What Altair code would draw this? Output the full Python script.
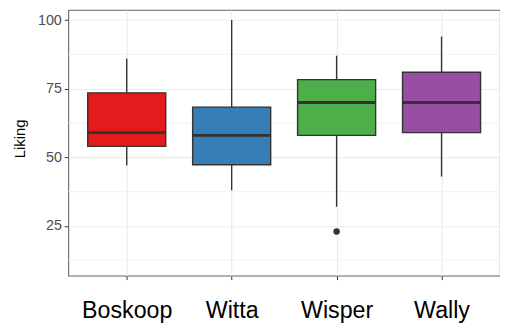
import altair as alt
import pandas as pd

cultivars = ["Boskoop", "Witta", "Wisper", "Wally"]
colors = ["#E41A1C", "#377EB8", "#4DAF4A", "#984EA3"]
lower = [47, 38, 32, 43]
q1 = [54, 47.3, 58, 59]
median = [59, 58, 70, 70]
q3 = [73.5, 68.3, 78.3, 81]
upper = [86, 100, 87, 94]
outlier_cultivar = ["Wisper"]
outlier_value = [23]
major_ticks = [25, 50, 75, 100]
minor_ticks = [12.5, 37.5, 62.5, 87.5]

df = pd.DataFrame({"cultivar": cultivars, "lower": lower, "q1": q1,
                   "median": median, "q3": q3, "upper": upper})
out_df = pd.DataFrame({"cultivar": outlier_cultivar, "value": outlier_value})
minor_df = pd.DataFrame({"v": minor_ticks})

FONT = "Liberation Sans"
ydom = [6.9, 103.7]

x_enc = alt.X("cultivar:N", sort=cultivars,
              scale=alt.Scale(type="point", padding=0.557),
              axis=alt.Axis(title=None, labelAngle=0, labelFontSize=23.5,
                            labelColor="black", labelFont=FONT, labelPadding=19,
                            grid=True, gridColor="#ebebeb", gridWidth=1.1,
                            domain=False, tickColor="#333333", tickSize=4))
yscale = alt.Scale(domain=ydom, nice=False, zero=False)

minor = alt.Chart(minor_df).mark_rule(color="#efefef", strokeWidth=0.8).encode(
    y=alt.Y("v:Q", scale=yscale, title="Liking",
            axis=alt.Axis(values=major_ticks, grid=True, gridColor="#ebebeb",
                          gridWidth=1.1, domain=False, tickColor="#333333",
                          tickSize=4, labelColor="#4d4d4d", labelFontSize=14.5,
                          labelFont=FONT, titleFont=FONT, titleFontSize=15,
                          titleFontWeight="normal", titleColor="black",
                          titlePadding=10, labelPadding=3, titleY=130))
)

base = alt.Chart(df).encode(x=x_enc)

whisk_lo = base.mark_rule(color="#333333", strokeWidth=1.4).encode(
    y=alt.Y("lower:Q", scale=yscale), y2="q1:Q")
whisk_hi = base.mark_rule(color="#333333", strokeWidth=1.4).encode(
    y=alt.Y("q3:Q", scale=yscale), y2="upper:Q")
box = base.mark_bar(size=79, stroke="#333333", strokeWidth=1.4).encode(
    y=alt.Y("q1:Q", scale=yscale), y2="q3:Q",
    fill=alt.Fill("cultivar:N", scale=alt.Scale(domain=cultivars, range=colors),
                  legend=None))
med = base.mark_tick(size=79, thickness=3, color="#333333", opacity=1).encode(
    y=alt.Y("median:Q", scale=yscale))
outl = alt.Chart(out_df).mark_circle(size=42, color="#333333", opacity=1).encode(
    x=alt.X("cultivar:N", sort=cultivars), y=alt.Y("value:Q", scale=yscale))

chart = alt.layer(minor, whisk_lo, whisk_hi, box, med, outl).properties(
    width=437, height=269,
    autosize=alt.AutoSizeParams(type="none"),
    padding={"left": 61, "top": 0, "right": 0, "bottom": 48},
).configure_view(stroke="#666666", strokeWidth=1.1)

chart.save("out.html", embed_options={"renderer": "svg", "actions": False})
